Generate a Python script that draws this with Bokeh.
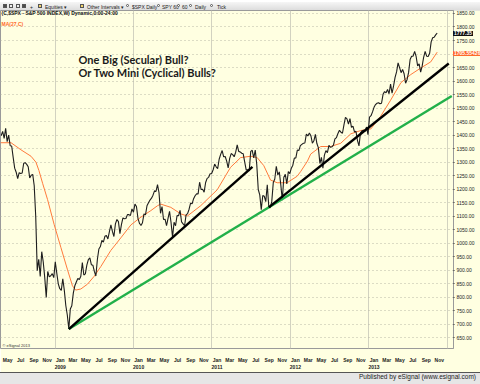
import pandas as pd
from bokeh.plotting import figure
from bokeh.models import (ColumnDataSource, Range1d, FixedTicker, Label, Div,
                          PrintfTickFormatter)
from bokeh.layouts import column
from bokeh.embed import file_html
from bokeh.resources import INLINE

BASE = pd.Timestamp("2008-01-01")


def day(s):
    return (pd.Timestamp(s) - BASE).days


# ---------------- data (weekly closes) ----------------
first_week = "2008-04-25"
spx_close = [
    # 2008
    1398, 1414, 1388, 1425, 1376, 1400, 1361, 1360, 1318, 1278, 1263, 1239,
    1261, 1258, 1260, 1296, 1298, 1292, 1283, 1242, 1252, 1255, 1213, 1099,
    899, 941, 877, 969, 931, 873, 800, 896, 876, 880, 888, 873,
    # 2009
    932, 890, 850, 832, 826, 869, 827, 770, 735, 683, 757, 769, 816, 843,
    857, 870, 866, 878, 929, 883, 887, 919, 940, 946, 921, 919, 896, 879,
    940, 979, 988, 1011, 1004, 1026, 1029, 1016, 1043, 1068, 1044, 1025,
    1072, 1088, 1080, 1036, 1069, 1094, 1091, 1092, 1106, 1106, 1103, 1127,
    1115,
    # 2010
    1145, 1136, 1092, 1074, 1066, 1076, 1109, 1105, 1139, 1150, 1160, 1167,
    1178, 1194, 1192, 1217, 1187, 1111, 1136, 1088, 1089, 1065, 1092, 1118,
    1077, 1023, 1078, 1065, 1103, 1102, 1122, 1079, 1072, 1065, 1105, 1110,
    1126, 1149, 1146, 1165, 1176, 1183, 1183, 1226, 1199, 1200, 1189, 1225,
    1240, 1244, 1257, 1258,
    # 2011
    1272, 1293, 1283, 1276, 1311, 1329, 1343, 1320, 1321, 1304, 1279, 1314,
    1332, 1328, 1320, 1337, 1364, 1340, 1338, 1333, 1331, 1300, 1271, 1272,
    1268, 1340, 1344, 1316, 1345, 1292, 1199, 1179, 1124, 1177, 1174, 1154,
    1216, 1136, 1131, 1155, 1225, 1238, 1285, 1253, 1264, 1216, 1159, 1244,
    1255, 1220, 1265, 1258,
    # 2012
    1278, 1289, 1315, 1316, 1345, 1343, 1361, 1366, 1370, 1371, 1404, 1397,
    1408, 1398, 1370, 1379, 1403, 1369, 1353, 1295, 1318, 1278, 1326, 1343,
    1335, 1362, 1355, 1357, 1363, 1386, 1391, 1406, 1418, 1411, 1407, 1438,
    1466, 1460, 1441, 1461, 1429, 1433, 1412, 1414, 1380, 1360, 1409, 1416,
    1418, 1414, 1430, 1402,
    # 2013
    1467, 1472, 1486, 1503, 1513, 1518, 1520, 1516, 1518, 1551, 1561, 1557,
    1569, 1553, 1589, 1555, 1582, 1614, 1634, 1667, 1650, 1631, 1643, 1627,
    1592, 1606, 1632, 1680, 1692, 1692, 1710, 1691, 1656, 1664, 1633, 1655,
    1688, 1710, 1692, 1691, 1703, 1745, 1760, 1762, 1771, 1777,
]

ma_dates = [
    "2008-04-22", "2008-06-10", "2008-07-26", "2008-09-11", "2008-10-04",
    "2008-10-18", "2008-11-04", "2008-11-27", "2008-12-28", "2009-01-28",
    "2009-02-28", "2009-03-23", "2009-04-07", "2009-05-01", "2009-06-01",
    "2009-07-02", "2009-08-02", "2009-09-17", "2009-11-03", "2009-12-20",
    "2010-02-05", "2010-03-23", "2010-04-23", "2010-05-08", "2010-06-24",
    "2010-08-09", "2010-09-09", "2010-11-10", "2011-01-26", "2011-03-29",
    "2011-05-15", "2011-07-01", "2011-07-31", "2011-08-31", "2011-10-01",
    "2011-11-01", "2011-12-17", "2012-02-02", "2012-02-18", "2012-03-21",
    "2012-04-05", "2012-05-22", "2012-07-07", "2012-08-23", "2012-10-09",
    "2012-11-24", "2013-01-10", "2013-02-25", "2013-04-12", "2013-05-30",
    "2013-07-15", "2013-08-30", "2013-10-16", "2013-11-15",
]
ma_values = [
    1372, 1372, 1346, 1322, 1300, 1269, 1222, 1162, 1069, 985,
    902, 843, 827, 831, 849, 878, 914, 973, 1020, 1068,
    1097, 1121, 1139, 1145, 1133, 1109, 1101, 1139, 1198, 1281,
    1317, 1322, 1317, 1287, 1234, 1224, 1224, 1248, 1265, 1304,
    1330, 1358, 1358, 1370, 1405, 1417, 1423, 1470, 1529, 1594,
    1624, 1648, 1671, 1707,
]

trend1_dates = ["2009-03-06", "2011-07-09"]
trend1_values = [683, 1283]
trend2_dates = ["2011-09-23", "2014-01-08"]
trend2_values = [1133, 1665]
green_dates = ["2009-03-06", "2014-01-22"]
green_values = [683, 1545]

price_ticks = list(range(650, 1851, 50))
month_ticks = list(pd.date_range("2008-05-01", "2013-11-01", freq="2MS"))
month_labels = [m.strftime("%b") + ("\n" + str(m.year) if m.month == 1 else "")
                for m in month_ticks]
year_starts = ["2009-01-01", "2010-01-01", "2011-01-01", "2012-01-01", "2013-01-01", "2014-01-01"]

last_close_label = "1777.35"
ma_last_label = "1705.55426"

# ---------------- figure ----------------
BG = "#FFFFE1"
W = 480
TOOLBAR_H = 10
FIG_H = 362
BOTTOM = 13
FOOTER_H = 12
week_dates = pd.date_range(first_week, periods=len(spx_close), freq="7D")
x_start, x_end = day("2008-04-22"), day("2014-01-30")
y_start, y_end = 611, 1861

p = figure(width=W, height=FIG_H, output_backend="svg", toolbar_location=None,
           x_range=Range1d(x_start, x_end), y_range=Range1d(y_start, y_end),
           y_axis_location="right", min_border_left=0, min_border_top=0,
           min_border_right=27, min_border_bottom=BOTTOM,
           background_fill_color=BG, border_fill_color=BG)
p.outline_line_color = "#9A9A9A"

# grids
p.ygrid.ticker = FixedTicker(ticks=price_ticks)
p.ygrid.grid_line_color = "#B9B9A6"
p.ygrid.grid_line_dash = "1 3"
p.xgrid.ticker = FixedTicker(ticks=[day(s) for s in year_starts])
p.xgrid.grid_line_color = "#D2D2C0"

# axes
yax = p.yaxis[0]
yax.ticker = FixedTicker(ticks=price_ticks)
yax.formatter = PrintfTickFormatter(format="%.2f")
yax.major_label_overrides = {1700: ""}  # hidden under the MA marker
yax.major_label_text_font_size = "5px"
yax.major_label_text_font = "Liberation Sans"
yax.major_label_text_color = "#222222"
yax.major_label_standoff = 2
yax.major_tick_in = 0
yax.major_tick_out = 1
yax.major_tick_line_color = "#333333"
yax.minor_tick_line_color = None
yax.axis_line_color = "#9A9A9A"

label_shift = 24
xax = p.xaxis[0]
xt = [day(m) + label_shift for m in month_ticks]
xax.ticker = FixedTicker(ticks=xt)
xax.major_label_overrides = {t: lab for t, lab in zip(xt, month_labels)}
xax.major_label_text_font_size = "5px"
xax.major_label_text_font = "Liberation Sans"
xax.major_label_text_font_style = "bold"
xax.major_label_text_color = "#222222"
xax.major_label_standoff = 2
xax.major_tick_line_color = None
xax.minor_tick_line_color = None
xax.axis_line_color = None

# series
src = ColumnDataSource(dict(x=[(d - BASE).days for d in week_dates], y=spx_close))
ma_src = ColumnDataSource(dict(x=[day(s) for s in ma_dates], y=ma_values))
p.line("x", "y", source=ma_src, color="#FF7A3C", line_width=1)
p.line("x", "y", source=src, color="#1E1E1E", line_width=1.1)
p.line([day(s) for s in green_dates], green_values, color="#22B04A", line_width=2.4)
p.line([day(s) for s in trend1_dates], trend1_values, color="#000000", line_width=2.4)
p.line([day(s) for s in trend2_dates], trend2_values, color="#000000", line_width=2.4)

# texts inside the chart
p.add_layout(Label(x=x_start, y=1850, x_offset=1, text="(C,$SPX - S&P 500 INDEX,W) Dynamic,0:00-24:00",
                   text_font_size="5px", text_font="Liberation Sans", text_font_style="bold",
                   text_color="#111111", text_baseline="middle"))
p.add_layout(Label(x=x_start, y=1811, x_offset=1, text="MA(27,C)",
                   text_font_size="5px", text_font="Liberation Sans", text_font_style="bold",
                   text_color="#FF6A2A", text_baseline="middle"))
p.add_layout(Label(x=day("2009-04-20"), y=1680, text="One Big (Secular) Bull?",
                   text_font_size="11px", text_font="Lato", text_font_style="bold",
                   text_color="#1A1A1A", text_baseline="middle"))
p.add_layout(Label(x=day("2009-04-20"), y=1630, text="Or Two Mini (Cyclical) Bulls?",
                   text_font_size="11px", text_font="Lato", text_font_style="bold",
                   text_color="#1A1A1A", text_baseline="middle"))
p.add_layout(Label(x=x_start, y=622, x_offset=2, text="\u00a9 eSignal 2013",
                   text_font_size="4px", text_font="Liberation Sans",
                   text_color="#333333", text_baseline="middle"))

# ---- value markers on the price axis (drawn over the axis area) ----
frame_top = TOOLBAR_H
frame_h = FIG_H - BOTTOM
axis_left = W - 27


def y_to_px(v):
    return frame_top + (y_end - v) / (y_end - y_start) * frame_h


mk = ('<span style="position:absolute;left:{x}px;top:{t:.1f}px;height:5px;line-height:5px;'
      'padding:0 1px;background:{bg};color:#FFF;font-family:\'Liberation Sans\';font-size:5px;'
      'font-weight:bold;white-space:nowrap">{txt}</span>')
markers_html = (mk.format(x=axis_left, t=y_to_px(spx_close[-1]) - 2.5, bg="#111111", txt=last_close_label)
                + mk.format(x=axis_left, t=y_to_px(ma_values[-1]) - 2.5, bg="#FF6A2A", txt=ma_last_label))
markers = Div(text=markers_html, width=1, height=1, margin=(0, 0, 0, 0),
              styles={"position": "absolute", "left": "0px", "top": "0px", "z-index": "20",
                      "overflow": "visible", "pointer-events": "none"})

# toolbar and footer
sq = ('<span style="position:absolute;left:{x}px;top:2px;width:4px;height:4px;'
      'background:{c};border:1px solid #555"></span>')
ci = ('<span style="position:absolute;left:{x}px;top:2px;width:3px;height:3px;'
      'border-radius:50%;border:1px solid #555;background:#FFF"></span>')
txt = '<span style="position:absolute;left:{x}px;top:0px;line-height:10px;white-space:nowrap">{t}</span>'
items = [sq.format(x=3, c="#4C4C4C"), sq.format(x=9, c="#EEEEEE"),
         sq.format(x=16, c="#EEEEEE"), sq.format(x=22, c="#4C4C4C"),
         txt.format(x=30, t="+"),
         sq.format(x=38, c="#F2D36B"), txt.format(x=45, t="Equities \u25be"),
         sq.format(x=80, c="#F2D36B"), txt.format(x=87, t="Other Intervals \u25be"),
         ci.format(x=126), txt.format(x=132, t="$SPX Daily"),
         ci.format(x=157), txt.format(x=162, t="SPY 60"),
         ci.format(x=177), txt.format(x=182, t="60"),
         ci.format(x=189), txt.format(x=195, t="Daily"),
         ci.format(x=210), txt.format(x=217, t="Tick")]
toolbar_html = ('<div style="position:relative;width:480px;height:10px;overflow:hidden;'
                'background:linear-gradient(#F6F6F6,#DADADA);border-bottom:1px solid #B0B0B0;'
                'box-sizing:border-box;font-family:\'Liberation Sans\';font-size:5px;color:#222">'
                + "".join(items) + '</div>')
toolbar = Div(text=toolbar_html, width=W, height=TOOLBAR_H, margin=(0, 0, 0, 0))

footer_html = ('<div style="position:relative;width:480px;height:12px;overflow:hidden;'
               'background:#E6E6E6;border-top:1px solid #555;box-sizing:border-box;'
               'font-family:\'Liberation Sans\';font-size:6.5px;color:#222">'
               '<span style="position:absolute;right:4px;top:0px;line-height:7px;white-space:nowrap">'
               'Published by eSignal (www.esignal.com)</span></div>')
footer = Div(text=footer_html, width=W, height=FOOTER_H, margin=(0, 0, 0, 0))
p.margin = (0, 0, 0, 0)

layout = column(toolbar, p, footer, markers, spacing=0)
open("out.html", "w").write(file_html(layout, INLINE))
